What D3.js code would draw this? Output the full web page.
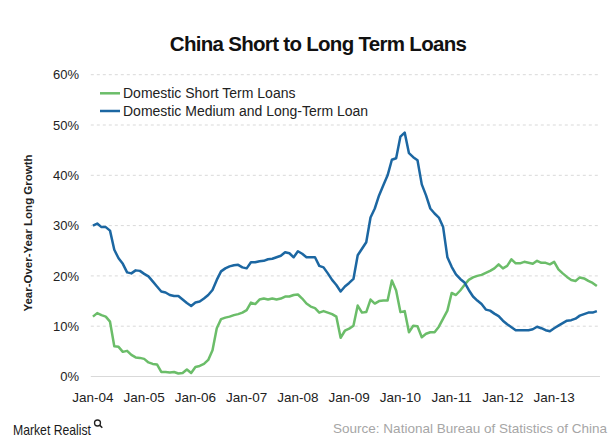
<!DOCTYPE html>
<html>
<head>
<meta charset="utf-8">
<script src="https://cdn.jsdelivr.net/npm/d3@7"></script>
<style>
  html, body { margin: 0; padding: 0; background: #fff; }
  svg { display: block; font-family: "Liberation Sans", Arial, sans-serif; }
</style>
</head>
<body>
<svg id="chart" width="614" height="440"></svg>
<script>
// ---- Data (monthly, Jan-2004 .. Nov-2013), year-over-year growth in % ----
const startMonth = "2004-01";
const monthCount = 119;
const shortTermLoans = [
  11.9, 12.6, 12.2, 11.9, 10.9, 6.0, 5.9, 4.9, 5.1, 4.3, 3.8, 3.7,
  3.5, 2.8, 2.5, 2.4, 0.9, 0.9, 0.8, 0.9, 0.6, 0.7, 1.4, 0.7,
  1.9, 2.1, 2.5, 3.3, 5.2, 9.6, 11.4, 11.7, 11.9, 12.2, 12.4, 12.7,
  13.2, 14.7, 14.4, 15.3, 15.5, 15.3, 15.5, 15.3, 15.5, 15.9, 15.9, 16.2,
  16.3, 15.5, 14.5, 13.9, 13.6, 12.7, 13.0, 12.7, 12.4, 11.9, 7.7, 9.1,
  9.5, 10.1, 14.1, 12.7, 12.8, 15.3, 14.5, 15.0, 15.1, 15.1, 19.1, 17.1,
  12.8, 13.0, 8.8, 10.1, 10.0, 7.8, 8.5, 8.8, 8.8, 9.9, 11.5, 13.1,
  16.6, 16.2, 17.1, 18.2, 19.2, 19.7, 20.0, 20.2, 20.6, 21.0, 21.5, 22.3,
  21.5, 22.0, 23.3, 22.5, 22.5, 22.8, 22.6, 22.4, 23.0, 22.6, 22.6, 22.3,
  22.8, 21.3, 20.5, 19.8, 19.2, 19.0, 19.7, 19.5, 19.0, 18.6, 18.0
];
const mediumLongTermLoans = [
  30.0, 30.4, 29.7, 29.7, 29.0, 25.2, 23.5, 22.4, 20.7, 20.5, 21.1, 21.0,
  20.4, 19.9, 18.9, 17.9, 16.9, 16.7, 16.2, 16.0, 16.0, 15.3, 14.6, 14.0,
  14.7, 14.9, 15.5, 16.2, 17.2, 19.2, 20.9, 21.5, 21.9, 22.1, 22.2, 21.7,
  21.5, 22.7, 22.7, 22.9, 23.0, 23.3, 23.4, 23.7, 24.0, 24.7, 24.5, 23.7,
  24.9, 24.4, 23.7, 23.7, 23.7, 22.0, 21.7, 20.5, 19.2, 18.2, 16.9, 17.9,
  18.6, 19.4, 24.1, 25.4, 26.7, 31.6, 33.4, 36.0, 38.0, 40.0, 43.1, 43.4,
  47.7, 48.5, 44.4, 43.6, 43.0, 38.2, 36.0, 33.4, 32.4, 31.6, 29.7, 23.7,
  21.8, 20.3, 19.4, 18.7, 17.2, 15.9, 15.1, 14.4, 13.3, 13.1, 12.5, 12.0,
  11.1, 10.4, 9.8, 9.2, 9.2, 9.2, 9.2, 9.4, 9.9, 9.6, 9.2, 9.0,
  9.6, 10.1, 10.6, 11.1, 11.2, 11.5, 12.1, 12.4, 12.7, 12.7, 13.0
];
const seriesNames = ["Domestic Short Term Loans", "Domestic Medium and Long-Term Loan"];
const yTicks = [0, 10, 20, 30, 40, 50, 60];
const xTickLabels = ["Jan-04","Jan-05","Jan-06","Jan-07","Jan-08","Jan-09","Jan-10","Jan-11","Jan-12","Jan-13"];

// ---- Layout ----
const svg = d3.select("#chart");
const plot = { left: 90.8, right: 599, top: 74.7, bottom: 376.5 };
const colors = ["#6bbd69", "#1c67a2"];

const parse = d3.timeParse("%Y-%m");
const t0 = parse(startMonth);
const months = d3.range(monthCount).map(i => d3.timeMonth.offset(t0, i));
const fmt = d3.timeFormat("%b-%y");

const x = d3.scaleBand().domain(months.map(fmt)).range([plot.left, plot.right]).paddingInner(0).paddingOuter(0);
const xc = m => x(fmt(m)) + x.bandwidth() / 2;
const y = d3.scaleLinear().domain([0, 60]).range([plot.bottom, plot.top]);

// Title
svg.append("text")
  .attr("x", 318).attr("y", 50.5)
  .attr("text-anchor", "middle")
  .attr("font-weight", "bold")
  .attr("font-size", 20.5)
  .attr("letter-spacing", -0.7)
  .attr("fill", "#111")
  .text("China Short to Long Term Loans");

// Gridlines
svg.append("g").selectAll("line")
  .data(yTicks.filter(d => d > 0))
  .join("line")
  .attr("x1", plot.left).attr("x2", plot.right + 1)
  .attr("y1", d => y(d)).attr("y2", d => y(d))
  .attr("stroke", "#d9d9d9").attr("stroke-width", 1)
  .attr("stroke-dasharray", "3,3");

// Y axis labels
const yAxis = d3.axisLeft(y).tickValues(yTicks).tickFormat(d => d + "%").tickSize(0).tickPadding(0);
const gy = svg.append("g").attr("transform", `translate(79,0)`).call(yAxis);
gy.select(".domain").remove();
gy.selectAll("text").attr("font-size", 13).attr("fill", "#222").attr("font-family", "Liberation Sans, Arial, sans-serif");

// X axis
const janMonths = months.filter(m => m.getMonth() === 0);
const gx = svg.append("g");
gx.append("line")
  .attr("x1", plot.left).attr("x2", plot.right + 1)
  .attr("y1", y(0)).attr("y2", y(0))
  .attr("stroke", "#d9d9d9").attr("stroke-width", 1);
gx.selectAll("text.xl")
  .data(janMonths)
  .join("text")
  .attr("class", "xl")
  .attr("x", d => xc(d))
  .attr("y", 401.5)
  .attr("text-anchor", "middle")
  .attr("font-size", 13.5)
  .attr("fill", "#222")
  .text((d, i) => xTickLabels[i]);

// Y axis title
svg.append("text")
  .attr("transform", "translate(32,233) rotate(-90)")
  .attr("text-anchor", "middle")
  .attr("font-weight", "bold")
  .attr("font-size", 11.5)
  .attr("fill", "#222")
  .text("Year-Over-Year Long Growth");

// Lines
const line = d3.line().x((d, i) => xc(months[i])).y(d => y(d));
[shortTermLoans, mediumLongTermLoans].forEach((s, k) => {
  svg.append("path")
    .datum(s)
    .attr("d", line)
    .attr("fill", "none")
    .attr("stroke", colors[k])
    .attr("stroke-width", 2.5)
    .attr("stroke-linejoin", "round");
});

// Legend
const lg = svg.append("g");
seriesNames.forEach((n, k) => {
  const ly = 93.3 + k * 17.7;
  lg.append("line").attr("x1", 100).attr("x2", 120).attr("y1", ly).attr("y2", ly)
    .attr("stroke", colors[k]).attr("stroke-width", 2.5);
  lg.append("text").attr("x", 123).attr("y", ly + 5)
    .attr("font-size", 14).attr("fill", "#222").text(n);
});

// Footer
const mr = svg.append("g");
mr.append("text").attr("x", 13).attr("y", 435)
  .attr("font-size", 14.5).attr("fill", "#1a1a1a")
  .attr("textLength", 78).attr("lengthAdjust", "spacingAndGlyphs")
  .text("Market Realist");
mr.append("circle").attr("cx", 97.5).attr("cy", 423).attr("r", 3)
  .attr("fill", "none").attr("stroke", "#222").attr("stroke-width", 1.3);
mr.append("line").attr("x1", 99.6).attr("y1", 425.1).attr("x2", 102.3).attr("y2", 427.8)
  .attr("stroke", "#222").attr("stroke-width", 1.5);

svg.append("text").attr("x", 607).attr("y", 433)
  .attr("text-anchor", "end")
  .attr("font-size", 13.5).attr("fill", "#a6a6a6")
  .text("Source: National Bureau of Statistics of China");
</script>
</body>
</html>
